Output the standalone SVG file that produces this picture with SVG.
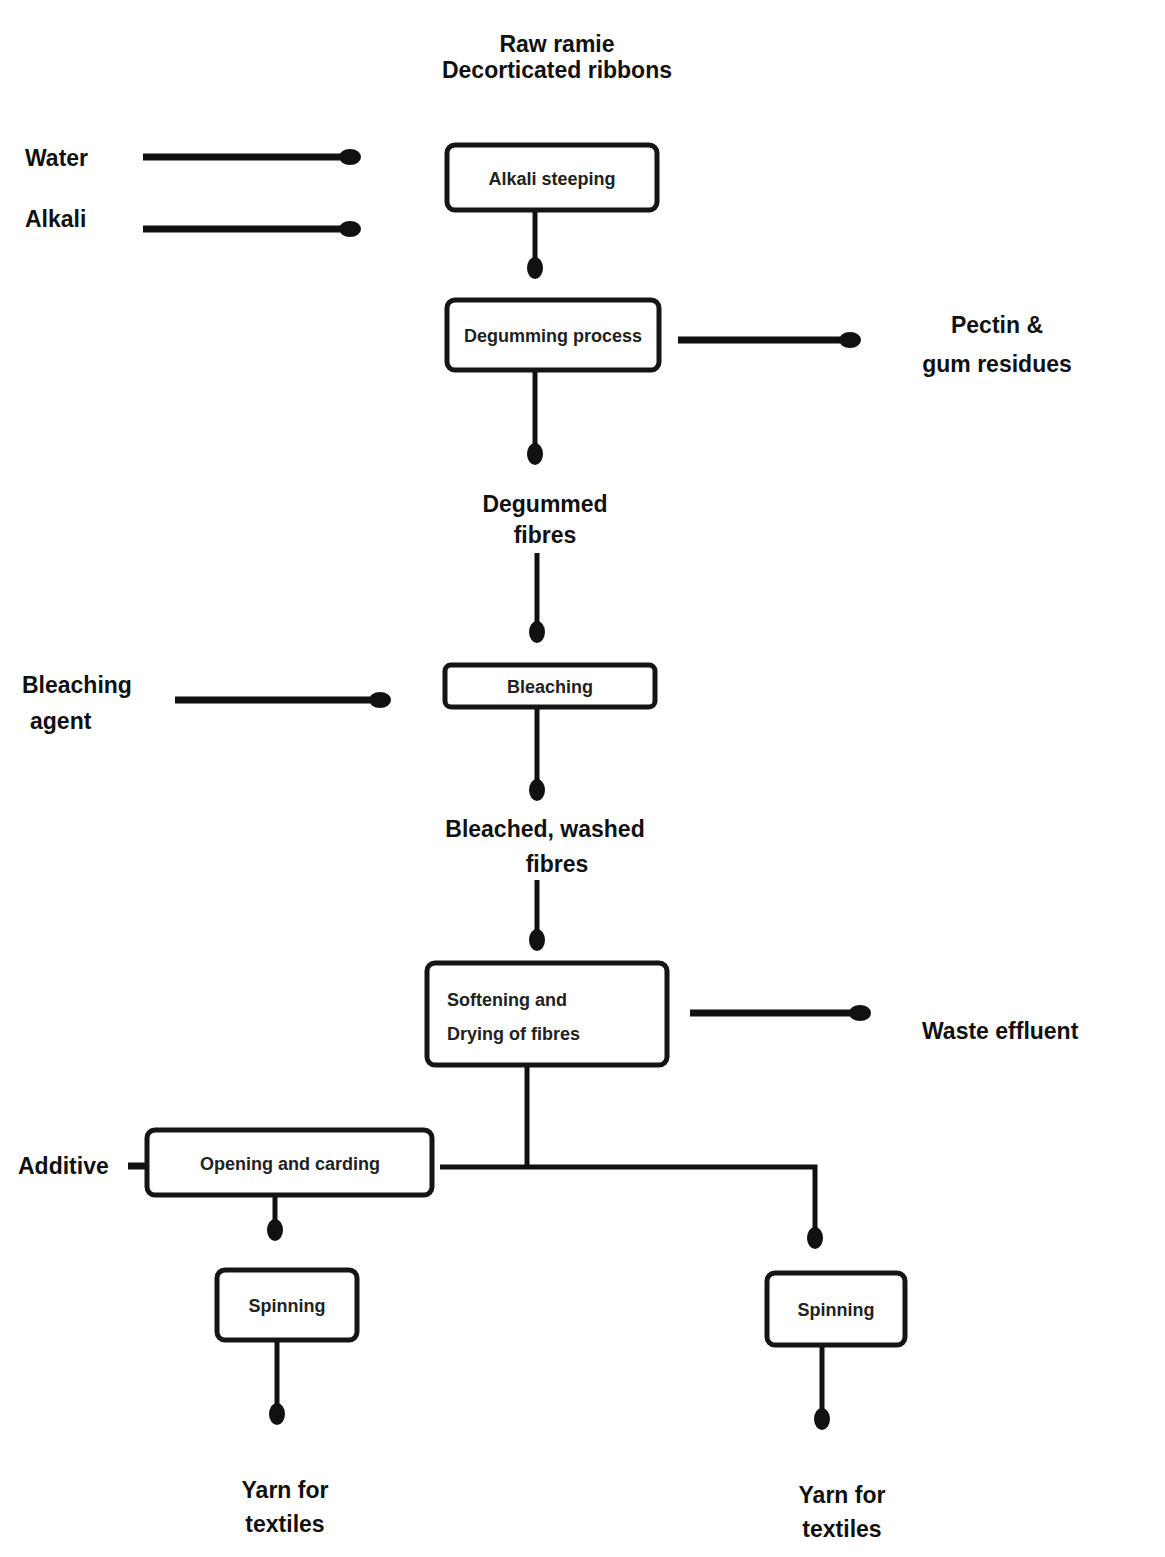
<svg xmlns="http://www.w3.org/2000/svg" width="1165" height="1557" viewBox="0 0 1165 1557">
<style>
text{font-family:"Liberation Sans",Arial,sans-serif;fill:#111;}
.lbl{font-size:23px;font-weight:bold;}
.box{fill:#fff;stroke:#151515;stroke-width:5;}
.bt{font-size:18px;font-weight:bold;fill:#222;}
.c{fill:none;stroke:#111;stroke-width:5;}
.h{stroke-width:7;}
.m{text-anchor:middle;}
</style>
<defs>
<marker id="dot" markerUnits="userSpaceOnUse" markerWidth="26" markerHeight="20" refX="2" refY="10" orient="auto">
<ellipse cx="12" cy="10" rx="11" ry="8" fill="#111"/>
</marker>
</defs>
<rect width="1165" height="1557" fill="#fff"/>
<g id="connectors">
<path class="c h" d="M143,157 H340" marker-end="url(#dot)"/>
<path class="c h" d="M143,229 H340" marker-end="url(#dot)"/>
<path class="c" d="M535,212 V258" marker-end="url(#dot)"/>
<path class="c h" d="M678,340 H840" marker-end="url(#dot)"/>
<path class="c" d="M535,372 V444" marker-end="url(#dot)"/>
<path class="c" d="M537,553 V622" marker-end="url(#dot)"/>
<path class="c h" d="M175,700 H370" marker-end="url(#dot)"/>
<path class="c" d="M537,708 V780" marker-end="url(#dot)"/>
<path class="c" d="M537,880 V930" marker-end="url(#dot)"/>
<path class="c h" d="M690,1013 H850" marker-end="url(#dot)"/>
<path class="c" d="M527,1067 V1167"/>
<path class="c" d="M440,1167 H815 V1228" marker-end="url(#dot)"/>
<path class="c h" d="M128,1166 H147"/>
<path class="c" d="M275,1197 V1220" marker-end="url(#dot)"/>
<path class="c" d="M277,1342 V1404" marker-end="url(#dot)"/>
<path class="c" d="M822,1347 V1409" marker-end="url(#dot)"/>
</g>
<g id="title"><text class="lbl m" x="557" y="52">Raw ramie</text><text class="lbl m" x="557" y="78">Decorticated ribbons</text></g>
<g id="water"><text class="lbl" x="25" y="166">Water</text></g>
<g id="alkali"><text class="lbl" x="25" y="227">Alkali</text></g>
<g id="steeping"><rect class="box" x="447" y="145" width="210" height="65" rx="8"/><text class="bt m" x="552" y="185">Alkali steeping</text></g>
<g id="degumming"><rect class="box" x="447" y="300" width="212" height="70" rx="8"/><text class="bt m" x="553" y="342">Degumming process</text></g>
<g id="residue"><text class="lbl m" x="997" y="333">Pectin &amp;</text><text class="lbl m" x="997" y="372">gum residues</text></g>
<g id="degummed"><text class="lbl m" x="545" y="512">Degummed</text><text class="lbl m" x="545" y="543">fibres</text></g>
<g id="agent"><text class="lbl" x="22" y="693">Bleaching</text><text class="lbl" x="30" y="729">agent</text></g>
<g id="bleaching"><rect class="box" x="445" y="665" width="210" height="42" rx="6"/><text class="bt m" x="550" y="693">Bleaching</text></g>
<g id="bleached"><text class="lbl m" x="545" y="837">Bleached, washed</text><text class="lbl m" x="557" y="872">fibres</text></g>
<g id="softening"><rect class="box" x="427" y="963" width="240" height="102" rx="8"/><text class="bt" x="447" y="1006">Softening and</text><text class="bt" x="447" y="1040">Drying of fibres</text></g>
<g id="effluent"><text class="lbl" x="922" y="1039">Waste effluent</text></g>
<g id="additive"><text class="lbl" x="18" y="1174">Additive</text></g>
<g id="carding"><rect class="box" x="147" y="1130" width="285" height="65" rx="8"/><text class="bt m" x="290" y="1170">Opening and carding</text></g>
<g id="spin1"><rect class="box" x="217" y="1270" width="140" height="70" rx="8"/><text class="bt m" x="287" y="1312">Spinning</text></g>
<g id="spin2"><rect class="box" x="767" y="1273" width="138" height="72" rx="8"/><text class="bt m" x="836" y="1316">Spinning</text></g>
<g id="out1"><text class="lbl m" x="285" y="1498">Yarn for</text><text class="lbl m" x="285" y="1532">textiles</text></g>
<g id="out2"><text class="lbl m" x="842" y="1503">Yarn for</text><text class="lbl m" x="842" y="1537">textiles</text></g>
</svg>
